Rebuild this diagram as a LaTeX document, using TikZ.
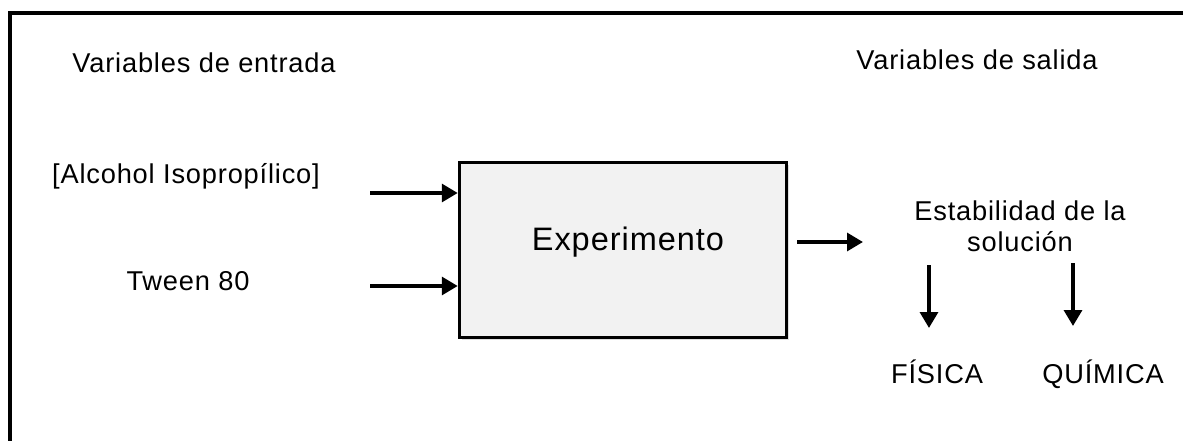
\documentclass[tikz,border=0pt]{standalone}
\usepackage{fontspec}
\setmainfont[LetterSpace=3]{Liberation Sans}
\usetikzlibrary{arrows.meta,shadows}

\begin{document}
\begin{tikzpicture}[x=0.02cm,y=-0.02cm,thick]
\tikzset{flow/.style={line width=2.2pt,-{Triangle[length=9pt,width=10pt]}},
  txt/.style={font=\fontsize{15.5}{17.6}\selectfont,inner sep=0pt,align=center,anchor=base}}
\colorlet{boxfill}{black!5}
\useasboundingbox (0,0) rectangle (1183,440);

% open frame, only top and left edges show
\draw[line width=2.2pt] (10,470) -- (10,13) -- (1210,13);

\node[txt] (inTitle) at (204,72) {Variables de entrada};
\node[txt] (outTitle) at (977,69) {Variables de salida};
\node[txt] (alcohol) at (186,183) {[Alcohol Isopropílico]};
\node[txt] (tween) at (188,290) {Tween 80};

\node[draw,line width=2pt,fill=boxfill,minimum width=327*0.02cm,minimum height=175*0.02cm,
  drop shadow={opacity=.25,shadow xshift=1.5pt,shadow yshift=-1.5pt}] (exp) at (623,250) {};
\node[txt,font=\fontsize{18.5}{22}\selectfont] (expLabel) at (628,250) {Experimento};

\node[txt,anchor=center] (estab) at (1020,226) {Estabilidad de la\\solución};
\node[txt] (fisica) at (937,383) {FÍSICA};
\node[txt] (quimica) at (1103,383) {QUÍMICA};

\coordinate (in1) at (370,193);
\coordinate (in2) at (370,286);
\coordinate (out) at (797,242);
\coordinate (outEnd) at (863,242);
\coordinate (f1) at (929,265);
\coordinate (f2) at (929,328);
\coordinate (q1) at (1073,263);
\coordinate (q2) at (1073,326);

\draw[flow] (in1) -- (exp.west |- in1);
\draw[flow] (in2) -- (exp.west |- in2);
\draw[flow] (out) -- (outEnd);
\draw[flow] (f1) -- (f2);
\draw[flow] (q1) -- (q2);
\end{tikzpicture}
\end{document}
